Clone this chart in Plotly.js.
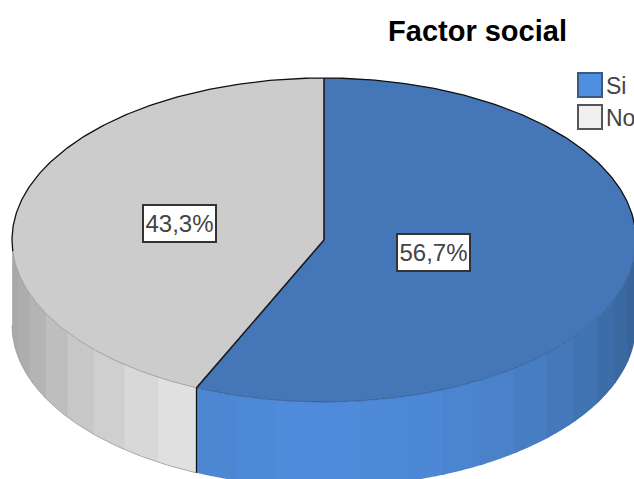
<!DOCTYPE html>
<html>
<head>
<meta charset="utf-8">
<script src="https://cdn.plot.ly/plotly-3.0.1.min.js"></script>
<style>html,body{margin:0;padding:0;background:#fff;overflow:hidden}#chart{width:634px;height:479px}</style>
</head>
<body>
<div id="chart"></div>
<script>
// --- data ---
const categories = ['Si', 'No'];
const percents = [56.7, 43.3];
const percentLabels = ['56,7%', '43,3%'];
const chartTitle = 'Factor social';

// --- styling ---
const topColors = ['#4476b8', '#cccccc'];
const swatchColors = ['#4f8fe0', '#f0f0f0'];
const swatchBorders = ['#3a5a80', '#555555'];
const blueBands = ['#4d87d3','#4e89d7','#4f8bda','#4f8bda','#4e89d8','#4c88d6','#4b85d0','#4a82ca','#477dc2','#4478ba','#4073b1','#3d6da8','#3a68a0','#386499','#365f90'];
const grayBands = ['#e0e0e0','#d8d8d8','#cfcfcf','#c7c7c7','#bebebe','#b4b4b4','#adadad','#a9a9a9','#a6a6a6'];
const bandSets = [blueBands, grayBands];
const frontEdgeColors = ['#2f5688', '#8c8c8c'];
const labelRadius = [0.36, 0.475];

// --- pie geometry, unit circle projected through the plot's axes ---
const W = 634, H = 479;
const CX = 324, CY = 240, RX = 312;     // pixel placement of the pie centre and radius
const tilt = 162 / 312, depth = 85 / 312;
const bandStep = 7.75, bandRef = 24.3;  // shading facets on the rim (degrees)
const rad = d => d * Math.PI / 180;
const px = d => Math.sin(rad(d));
const py = d => Math.cos(rad(d)) * tilt;

function arc(a, b, drop) {
  const xs = [], ys = [], n = Math.max(2, Math.ceil(Math.abs(b - a) * 1.5));
  for (let i = 0; i <= n; i++) {
    const t = a + (b - a) * i / n;
    xs.push(px(t)); ys.push(py(t) - (drop || 0));
  }
  return {x: xs, y: ys};
}

// slice angles (clockwise from 12 o'clock)
const total = percents.reduce((s, v) => s + v, 0);
const starts = [], ends = [];
percents.reduce((acc, v, i) => { starts[i] = acc; ends[i] = acc + v / total * 360; return ends[i]; }, 0);

const traces = [];
function addPoly(x, y, color) {
  traces.push({x, y, type: 'scatter', mode: 'none', fill: 'toself', fillcolor: color,
    hoverinfo: 'skip', showlegend: false});
}
function addLine(x, y, color, width) {
  traces.push({x, y, type: 'scatter', mode: 'lines', line: {color, width}, hoverinfo: 'skip', showlegend: false});
}

// rim: visible between 90 and 270 degrees, split into facets
percents.forEach((v, i) => {
  const a = Math.max(starts[i], 90), b = Math.min(ends[i], 270);
  if (b <= a) return;
  const seam = starts[1];
  const edges = [];
  if (i === 0) {           // from seam towards the right side
    edges.push(b);
    let k = 0, t = 180 + bandRef - bandStep * k;
    while (t >= seam) { k++; t = 180 + bandRef - bandStep * k; }
    while (t > a) { edges.push(t); k++; t = 180 + bandRef - bandStep * k; }
    edges.push(a);
  } else {                 // from seam towards the left side
    edges.push(a);
    let k = 1, t = 180 + bandRef + bandStep * k;
    while (t < b) { edges.push(t); k++; t = 180 + bandRef + bandStep * k; }
    edges.push(b);
  }
  for (let j = 0; j < edges.length - 1; j++) {
    const dir = edges[j + 1] > edges[j] ? 1 : -1;
    const last = j === edges.length - 2;
    const stop = last ? edges[j + 1] : edges[j + 1] + dir * 0.8; // next facet paints over the overlap
    const up = arc(edges[j], stop, 0), low = arc(stop, edges[j], depth);
    addPoly(up.x.concat(low.x), up.y.concat(low.y), bandSets[i][Math.min(j, bandSets[i].length - 1)]);
  }
});

// slice tops
percents.forEach((v, i) => {
  const e = arc(starts[i], ends[i]);
  addPoly([0].concat(e.x, [0]), [0].concat(e.y, [0]), topColors[i]);
});

// rim edges
const grayLower = arc(starts[1], 270, depth);
addLine(grayLower.x, grayLower.y, '#9a9a9a', 0.8);
const blueFront = arc(92, starts[1]);
addLine(blueFront.x, blueFront.y, frontEdgeColors[0], 0.7);
const grayFront = arc(starts[1], 266);
addLine(grayFront.x, grayFront.y, frontEdgeColors[1], 0.7);
// back outline and slice borders
const backEdge = arc(266, 452);
addLine(backEdge.x, backEdge.y, '#111111', 1.3);
starts.forEach(s => addLine([0, px(s)], [0, py(s)], '#1a1a1a', 1.6));
addLine([px(starts[1]), px(starts[1])], [py(starts[1]), py(starts[1]) - depth], '#111111', 1.3);

// percentage labels
const annotations = percents.map((v, i) => {
  const mid = (starts[i] + ends[i]) / 2;
  return {x: px(mid) * labelRadius[i], y: py(mid) * labelRadius[i], text: percentLabels[i],
    showarrow: false, bgcolor: '#ffffff', bordercolor: '#333333', borderwidth: 2, borderpad: 0,
    width: 71, height: 35,
    font: {family: 'Liberation Sans, Arial, sans-serif', size: 24, color: '#444444'}};
});

// legend
const legendTop = [73, 105], swatchSize = 24, swatchLeft = 578;
const shapes = categories.map((c, i) => ({
  type: 'rect', xref: 'paper', yref: 'paper',
  x0: swatchLeft / W, x1: (swatchLeft + swatchSize) / W,
  y0: 1 - (legendTop[i] + swatchSize) / H, y1: 1 - legendTop[i] / H,
  fillcolor: swatchColors[i], line: {color: swatchBorders[i], width: 2}
}));
categories.forEach((c, i) => annotations.push({
  xref: 'paper', yref: 'paper', xanchor: 'left', yanchor: 'middle', showarrow: false,
  x: 604 / W, y: 1 - (legendTop[i] + swatchSize / 2 + 1) / H, text: c,
  font: {family: 'Liberation Sans, Arial, sans-serif', size: 23, color: '#444444'}
}));

const layout = {
  width: W, height: H, margin: {l: 0, r: 0, t: 0, b: 0},
  paper_bgcolor: '#ffffff', plot_bgcolor: '#ffffff', showlegend: false,
  title: {text: chartTitle, x: 477.5 / W, xanchor: 'center', y: 1 - 31 / H, yanchor: 'middle',
    font: {family: 'Liberation Sans, Arial, sans-serif', size: 29, color: '#000000', weight: 700}},
  xaxis: {range: [(0 - CX) / RX, (W - CX) / RX], visible: false, fixedrange: true},
  yaxis: {range: [(CY - H) / RX, CY / RX], visible: false, fixedrange: true},
  annotations, shapes
};
Plotly.newPlot('chart', traces, layout, {displayModeBar: false, staticPlot: true});
</script>
</body>
</html>
